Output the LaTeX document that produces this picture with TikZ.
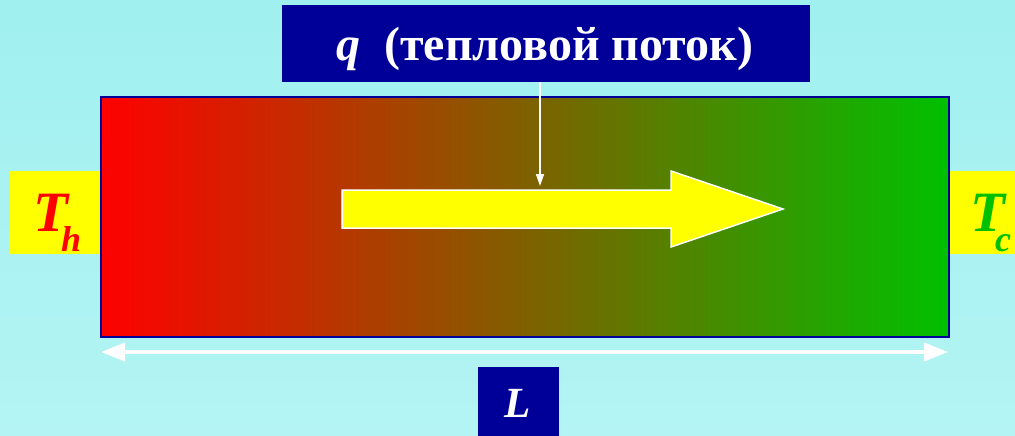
\documentclass[tikz,border=0pt]{standalone}
\usepackage{fontspec}
\setmainfont{Liberation Serif}
\usetikzlibrary{arrows.meta}

\definecolor{bgtop}{RGB}{160,240,240}
\definecolor{bgbot}{RGB}{180,244,244}
\definecolor{navy}{RGB}{0,0,153}
\definecolor{hotred}{RGB}{255,0,0}
\definecolor{coldgreen}{RGB}{0,192,0}
\definecolor{fluxyellow}{RGB}{255,255,0}

\tikzset{
  navybox/.style={fill=navy, draw=none, inner sep=0pt, anchor=north west},
  endbox/.style={fill=fluxyellow, draw=none, inner sep=0pt, anchor=north west,
                 minimum height=83},
  symb/.style={inner sep=0pt, anchor=base west,
               font=\fontsize{57}{57}\selectfont\bfseries\itshape},
  whitearrow/.style={draw=white, line width=1.5pt,
                     -{Triangle[length=12pt,width=8pt]}},
  dimline/.style={draw=white, line width=4pt,
                  {Triangle[length=24pt,width=18pt]}-{Triangle[length=24pt,width=18pt]}}
}

\begin{document}
\begin{tikzpicture}[x=1pt,y=-1pt]
  % background
  \shade[top color=bgtop, bottom color=bgbot] (0,0) rectangle (1015,436);
  \useasboundingbox (0,0) rectangle (1015,436);

  % hot and cold ends
  \node[endbox, minimum width=90] (hotend) at (10,171) {};
  \node[endbox, minimum width=67] (coldend) at (948,171) {};

  % the rod, red to green
  \shade[left color=hotred, right color=coldgreen] (100,96) rectangle (948,336);
  \node[draw=navy, line width=2pt, inner sep=0pt, anchor=north west,
        minimum width=848, minimum height=240] (rod) at (100,96) {};

  % temperature symbols
  \node[symb, text=hotred] (thot) at (33,231)
    {T\kern-7pt\raisebox{-20pt}{\fontsize{36}{36}\selectfont h}};
  \node[symb, text=coldgreen] (tcold) at (970,231)
    {T\kern-10pt\raisebox{-20pt}{\fontsize{36}{36}\selectfont c}};

  % heat flux arrow
  \draw[draw=white, line width=1.5pt, fill=fluxyellow]
    (342,190) -- (671,190) -- (671,171) -- (783,209) -- (671,247)
    -- (671,228) -- (342,228) -- cycle;
  \coordinate (fluxtip) at (540,186);

  % flux label
  \node[navybox, minimum width=528, minimum height=77] (fluxbox) at (282,5) {};
  \node[inner sep=0pt, anchor=base, text=white,
        font=\fontsize{48}{48}\selectfont\bfseries] (fluxtext) at (545,61)
    {\textit{q}\ \ (тепловой поток)};
  \draw[whitearrow] (fluxbox.south -| fluxtip) -- (fluxtip);

  % length dimension
  \coordinate (lenleft) at (101,352);
  \coordinate (lenright) at (948,352);
  \draw[dimline] (lenleft) -- (lenright);
  \node[navybox, minimum width=81, minimum height=69] (lenbox) at (478,367) {};
  \node[inner sep=0pt, anchor=base, text=white,
        font=\fontsize{43}{43}\selectfont\bfseries\itshape] (lentext) at (518,417) {L};
\end{tikzpicture}
\end{document}
